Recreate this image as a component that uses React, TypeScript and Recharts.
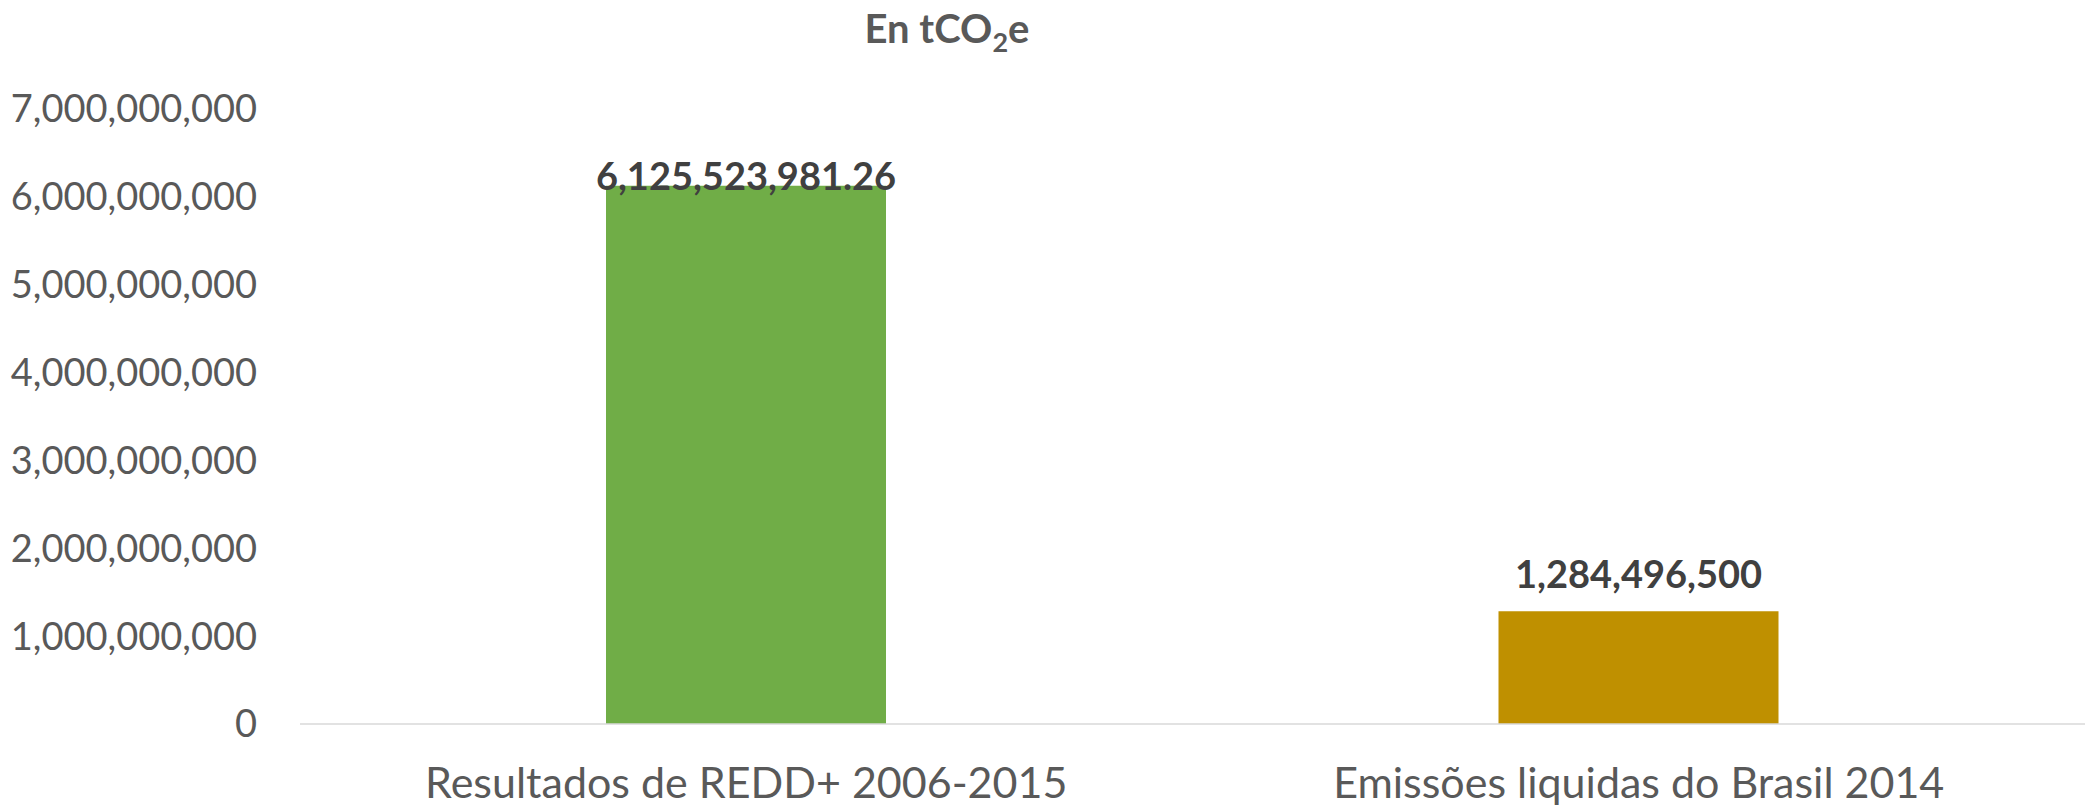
import { BarChart, Bar, XAxis, YAxis, Cell, LabelList } from "recharts";

const categories = ["Resultados de REDD+ 2006-2015", "Emissões liquidas do Brasil 2014"];
const values = [6125523981.26, 1284496500];
const barColors = ["#70ad47", "#bf9000"];
const yTicks = [0, 1e9, 2e9, 3e9, 4e9, 5e9, 6e9, 7e9];

const FONT = "Lato, 'Open Sans', sans-serif";

const data = categories.map((name, i) => ({ name, value: values[i] }));

const fmt = (v: number) => v.toLocaleString("en-US", { maximumFractionDigits: 2 });

// Excel keeps the label inside the plot area when the bar nearly hits the top
function ValueLabel(props: any) {
  const { x, y, width, value } = props;
  const baseline = Math.max(y - 23, 190);
  return (
    <text
      x={x + width / 2}
      y={baseline}
      textAnchor="middle"
      fill="#404040"
      fontFamily={FONT}
      fontWeight={700}
      fontSize={38}
    >
      {fmt(value)}
    </text>
  );
}

export default function App() {
  return (
    <div style={{ position: "absolute", left: 0, top: 0, width: 2093, height: 810, background: "#fff" }}>
      <div
        style={{
          position: "absolute",
          left: 0,
          top: 4,
          width: 1894,
          textAlign: "center",
          fontFamily: FONT,
          fontWeight: 700,
          fontSize: 40,
          lineHeight: "48px",
          color: "#595959",
        }}
      >
        En tCO<span style={{ fontSize: 27, position: "relative", top: 9 }}>2</span>e
      </div>
      <BarChart width={2093} height={810} data={data} margin={{ top: 109, right: 8, bottom: 56, left: 0 }}>
        <YAxis
          width={300}
          domain={[0, 7e9]}
          ticks={yTicks}
          interval={0}
          axisLine={false}
          tickLine={false}
          tickSize={0}
          tickMargin={43}
          tickFormatter={(v: number) => fmt(v)}
          tick={{ fill: "#595959", fontSize: 38, fontFamily: FONT }}
        />
        <XAxis
          dataKey="name"
          axisLine={{ stroke: "#d9d9d9", strokeWidth: 1.5 }}
          tickLine={false}
          tickSize={0}
          tickMargin={43}
          tick={{ fill: "#595959", fontSize: 43, fontFamily: FONT }}
        />
        <Bar dataKey="value" barSize={280} isAnimationActive={false}>
          {data.map((_, i) => (
            <Cell key={i} fill={barColors[i]} />
          ))}
          <LabelList dataKey="value" content={ValueLabel} />
        </Bar>
      </BarChart>
    </div>
  );
}
